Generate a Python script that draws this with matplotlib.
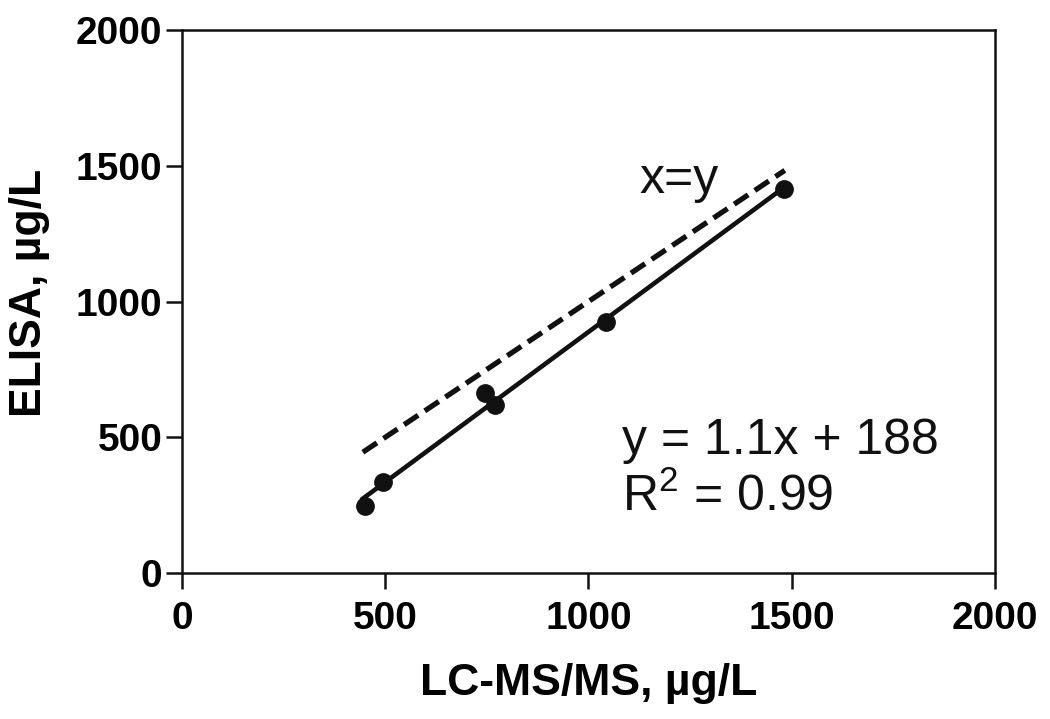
import numpy as np
import matplotlib
matplotlib.use("Agg")
import matplotlib.pyplot as plt

plt.rcParams['font.family'] = ['Liberation Sans', 'DejaVu Sans']
plt.rcParams['mathtext.fontset'] = 'custom'
plt.rcParams['mathtext.rm'] = 'Liberation Sans'
plt.rcParams['mathtext.it'] = 'Liberation Sans'

# Data
lcms = [450, 494, 745, 770, 1043, 1481]
elisa = [247, 335, 663, 619, 925, 1414]
identity_x = [445, 1483]
x_ticks = [0, 500, 1000, 1500, 2000]
y_ticks = [0, 500, 1000, 1500, 2000]
xlabel = "LC-MS/MS, \u00b5g/L"
ylabel = "ELISA, \u00b5g/L"
eq_text = "y = 1.1x + 188"
r2_text = "R$^2$ = 0.99"
ident_text = "x=y"

ink = '#111111'
fig = plt.figure(figsize=(10.5, 7.19), dpi=100)
ax = fig.add_axes([0.1733, 0.203, 0.7743, 0.7553])

ax.plot(identity_x, identity_x, linestyle=(0, (3.2, 1.5)), color=ink, lw=3.8, zorder=2)
coef = np.polyfit(lcms, elisa, 1)
fx = np.array([min(lcms) - 5, max(lcms)])
ax.plot(fx, np.polyval(coef, fx), color=ink, lw=3.3, zorder=3)
ax.plot(lcms, elisa, 'o', color=ink, markersize=12.5, zorder=4)

ax.set_xlim(0, 2000)
ax.set_ylim(0, 2000)
ax.set_xticks(x_ticks)
ax.set_yticks(y_ticks)
for s in ax.spines.values():
    s.set_linewidth(1.8)
    s.set_color(ink)
ax.tick_params(direction='out', length=11.5, width=1.8, color=ink, labelsize=28)
ax.xaxis.set_tick_params(pad=8.5)
ax.yaxis.set_tick_params(pad=2.5)
for lab in ax.get_xticklabels() + ax.get_yticklabels():
    lab.set_fontweight('bold')
ax.set_xlabel(xlabel, fontsize=32, fontweight='bold', labelpad=19)
ax.set_ylabel(ylabel, fontsize=32, fontweight='bold')
ax.yaxis.set_label_coords(-0.162, 0.5157)

ax.text(1125, 1400, ident_text, fontsize=36, color=ink, ha='left', va='baseline')
ax.text(1082, 440, eq_text, fontsize=36, color=ink, ha='left', va='baseline')
ax.text(1082, 230, r2_text, fontsize=36, color=ink, ha='left', va='baseline')

fig.savefig('out.png', dpi=100)
